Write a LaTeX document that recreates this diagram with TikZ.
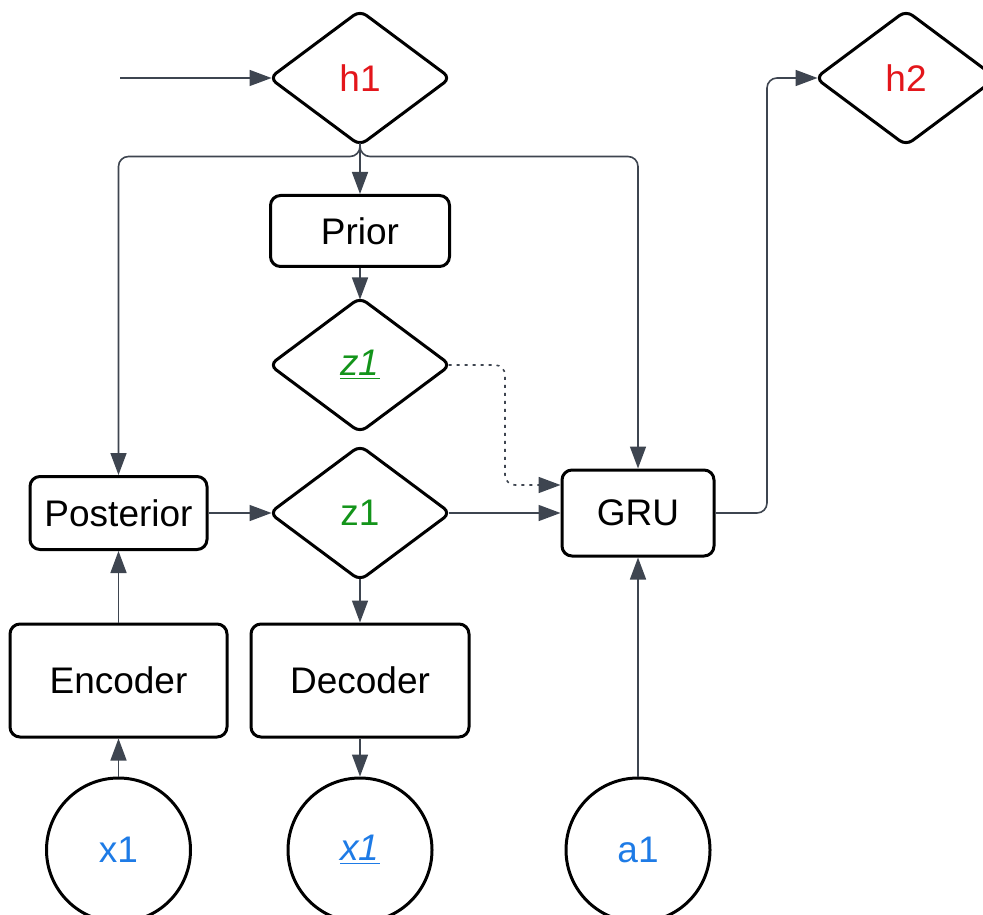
\documentclass[tikz,border=0pt]{standalone}
\usepackage{fontspec}
\setmainfont{Liberation Sans}
\usetikzlibrary{shapes.geometric,arrows.meta}
\definecolor{hred}{HTML}{E3161B}
\definecolor{zgreen}{HTML}{13941A}
\definecolor{xblue}{HTML}{1E7BE6}
\definecolor{conncol}{HTML}{3E4550}
\begin{document}
\begin{tikzpicture}[x=0.5pt,y=-0.5pt,
  every node/.style={font=\fontsize{18.5pt}{22pt}\selectfont},
  shapebase/.style={draw=black,line width=1.5pt,fill=white,inner sep=0pt},
  boxnode/.style={shapebase,rectangle,rounded corners=5pt},
  dmd/.style={shapebase,diamond,rounded corners=4pt,minimum width=91pt,minimum height=68pt},
  circnode/.style={shapebase,circle,minimum size=72pt},
  conn/.style={draw=conncol,line width=0.8pt,-{Triangle[length=11pt,width=8pt]}},
  dotconn/.style={conn,dash pattern=on 1.5pt off 2.5pt}
]
\useasboundingbox (0,0) rectangle (983,914);
% nodes
\node[dmd] (h1) at (360,78) {\textcolor{hred}{h1}};
\node[dmd] (h2) at (906,78) {\textcolor{hred}{h2}};
\node[boxnode,minimum width=89.5pt,minimum height=35.5pt] (prior) at (360,231) {Prior};
\node[dmd] (zp) at (360,365) {\textcolor{zgreen}{\underline{\textit{z1}}}};
\node[dmd] (zq) at (360,513) {\textcolor{zgreen}{z1}};
\node[boxnode,minimum width=88.5pt,minimum height=36.5pt] (post) at (118.5,513) {Posterior};
\node[boxnode,minimum width=76pt,minimum height=43pt] (gru) at (638,513) {GRU};
\node[boxnode,minimum width=108.5pt,minimum height=56.5pt] (enc) at (118.5,680.5) {Encoder};
\node[boxnode,minimum width=109pt,minimum height=56.5pt] (dec) at (360,680.5) {Decoder};
\node[circnode] (x1) at (118.5,850) {\textcolor{xblue}{x1}};
\node[circnode] (x1h) at (360,850) {\textcolor{xblue}{\underline{\textit{x1}}}};
\node[circnode] (a1) at (638,850) {\textcolor{xblue}{a1}};
\coordinate (in) at (120,78);
% connectors
\draw[conn] (in) -- ([xshift=2pt]h1.west);
\draw[conn] ([yshift=2pt]h1.south) -- (prior.north);
\draw[conn,rounded corners=5pt] ([yshift=2pt]h1.south) -- ++(0,13) -| (post.north);
\draw[conn,rounded corners=5pt] ([yshift=2pt]h1.south) -- ++(0,13) -| (gru.north);
\draw[conn] (prior.south) -- ([yshift=-2pt]zp.north);
\draw[dotconn,rounded corners=5pt] ([xshift=-2pt]zp.east) -- (505,365) |- ([yshift=14pt]gru.west);
\draw[conn] ([xshift=-2pt]zq.east) -- (gru.west);
\draw[conn] (post.east) -- ([xshift=2pt]zq.west);
\draw[conn] (enc.north) -- (post.south);
\draw[conn] (x1.north) -- (enc.south);
\draw[conn] ([yshift=2pt]zq.south) -- (dec.north);
\draw[conn] (dec.south) -- (x1h.north);
\draw[conn] (a1.north) -- (gru.south);
\draw[conn,rounded corners=5pt] (gru.east) -- (767,513) |- ([xshift=2pt]h2.west);
\end{tikzpicture}
\end{document}
